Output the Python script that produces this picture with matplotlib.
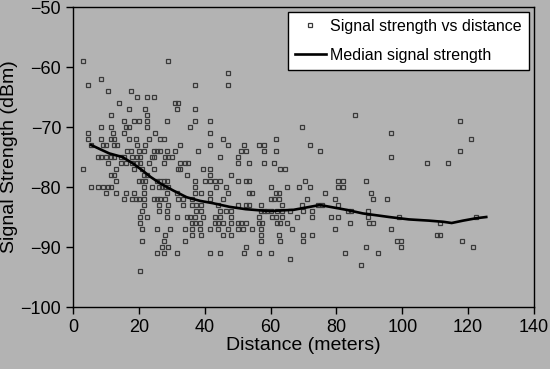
import matplotlib
matplotlib.use("Agg")
import matplotlib.pyplot as plt

plt.rcParams['font.family'] = ['Liberation Sans', 'DejaVu Sans']

# scatter data: signal strength (dBm) -> distances (m) measured at that level
rows = {
    -59: [3, 29],
    -61: [47],
    -62: [8.5],
    -63: [4.5, 37, 47],
    -64: [10.5, 17.5],
    -65: [19.5, 22.5, 24.5],
    -66: [14, 31, 32],
    -67: [17, 22, 31.5, 37],
    -68: [11.5, 22.5, 85.5],
    -69: [15.5, 18.5, 20, 22.5, 28.5, 37, 41.5, 117.5],
    -70: [8.5, 11.5, 16, 17, 22.5, 35.5, 69.5],
    -71: [4.5, 12, 15.5, 25, 41.5, 96.5],
    -72: [4.5, 8.5, 11.5, 12.5, 17, 19, 23, 26.5, 27.5, 45.5, 61.5, 121],
    -73: [5.5, 9, 10, 12.5, 13.5, 19.5, 22, 32.5, 41.5, 47, 52, 56.5, 58, 72],
    -74: [16.5, 17.5, 20, 21.5, 24.5, 25.5, 26.5, 28.5, 31, 38, 51, 52.5, 58,
          61.5, 75, 117.5],
    -75: [7.5, 8.5, 10, 11.5, 12.5, 14.5, 15.5, 18, 19.5, 20.5, 24, 24.5, 28, 29,
          30, 44.5, 50, 96.5],
    -76: [10.5, 14.5, 16, 18, 19.5, 20.5, 23, 27.5, 32.5, 34, 35, 50, 53.5, 58,
          61, 107.5, 114],
    -77: [3, 13, 18.5, 21, 24.5, 32, 32.5, 39.5, 41.5, 63, 64.5],
    -78: [11.5, 12.5, 21.5, 22.5, 34.5, 41.5, 48],
    -79: [13, 20, 21, 22, 25.5, 26.5, 27.5, 28.5, 37, 40, 41.5, 43, 44.5, 50,
          52.5, 53.5, 70.5, 80.5, 82, 89],
    -80: [5.5, 7.5, 9, 10.5, 11.5, 21.5, 24, 26, 27, 28, 29, 37, 43.5, 46.5, 60,
          65, 68.5, 72, 80.5, 82],
    -81: [10, 13, 16, 18.5, 21.5, 28.5, 31.5, 37, 39, 41.5, 47, 53.5, 54.5,
          61.5, 62.5, 76.5, 90.5],
    -82: [15.5, 18, 19, 20, 21.5, 24.5, 25.5, 26.5, 28, 32, 33.5, 36, 41.5, 45.5,
          60, 61, 62.5, 71, 79.5, 91, 95.5],
    -83: [21.5, 26, 29, 33.5, 36, 37.5, 39, 44, 50, 52.5, 53.5, 57, 63.5, 69.5,
          74.5, 75.5, 80.5],
    -84: [21, 26, 28.5, 37.5, 39, 44.5, 46.5, 48, 57, 58, 59, 60, 62, 63.5, 66,
          70, 72.5, 83.5, 84.5, 89.5],
    -85: [20.5, 22.5, 28.5, 31.5, 34.5, 35.5, 37, 39.5, 43, 44.5, 48, 56.5, 60.5,
          61.5, 63.5, 68, 72.5, 78.5, 80.5, 89.5, 99, 122.5],
    -86: [20.5, 36, 37, 38.5, 43, 44, 45.5, 48, 50, 51, 52.5, 56.5, 57.5, 62, 63,
          65, 84, 90, 91, 111.5],
    -87: [21, 25.5, 29.5, 34, 36, 38.5, 41.5, 44, 47, 50, 51.5, 54.5, 57, 66.5,
          79.5, 96.5],
    -88: [28, 36, 39, 45.5, 48, 57, 62.5, 70, 72.5, 110.5, 111.5],
    -89: [21, 27.5, 34, 57, 63, 70, 98.5, 99.5, 118],
    -90: [27, 29, 52.5, 89, 99.5, 121.5],
    -91: [25.5, 27.5, 31.5, 41.5, 44.5, 52, 56.5, 60, 82.5, 92.5],
    -92: [66],
    -93: [87.5],
    -94: [20.5],
}

# median signal strength curve
med_x = [5.5, 11, 15, 18, 21, 23.5, 26.5, 30.5, 34.5, 38.5, 42.5, 47.5, 52.5, 57,
         60, 67, 71, 75, 79, 83, 88, 92, 96, 102, 108, 112.5, 115, 118.5, 122.5,
         125.5]
med_y = [-73, -74.4, -75, -76, -77.2, -78.3, -79.4, -80.6, -81.7, -82.3, -82.7,
         -83.3, -83.7, -83.9, -84, -83.8, -83.4, -83, -83.4, -83.8, -84.4, -84.7,
         -85, -85.4, -85.6, -85.8, -86, -85.6, -85.2, -85]

dist = []
sig = []
for level, xs in rows.items():
    for d in xs:
        dist.append(d)
        sig.append(level)

gray = '#b3b3b3'
fig = plt.figure(figsize=(5.5, 3.69), dpi=100, facecolor=gray)
ax = fig.add_axes([0.1327, 0.168, 0.8382, 0.813])
ax.set_facecolor(gray)

ax.plot(dist, sig, linestyle='none', marker='s', ms=3.3, mfc='none',
        mec='#3a3a3a', mew=0.9, label='Signal strength vs distance')
ax.plot(med_x, med_y, color='black', lw=1.9, label='Median signal strength')

ax.set_xlim(0, 140)
ax.set_ylim(-100, -50)
ax.set_xticks(range(0, 141, 20))
ax.set_yticks(range(-100, -49, 10))
ax.tick_params(direction='out', length=5, width=1, labelsize=13, colors='black')
for s in ax.spines.values():
    s.set_linewidth(1)
    s.set_color('black')

ax.set_xlabel('Distance (meters)', fontsize=14, labelpad=1)
ax.set_ylabel('Signal Strength (dBm)', fontsize=14, labelpad=2)

leg = ax.legend(loc='upper right', fontsize=11.5, fancybox=False, framealpha=1,
                edgecolor='black', facecolor='white', borderaxespad=0.3,
                handlelength=1.9, handletextpad=0.3, borderpad=0.45,
                labelspacing=0.85, markerscale=0.9)
leg.get_frame().set_linewidth(1)

fig.savefig('out.png', dpi=100, facecolor=gray)
